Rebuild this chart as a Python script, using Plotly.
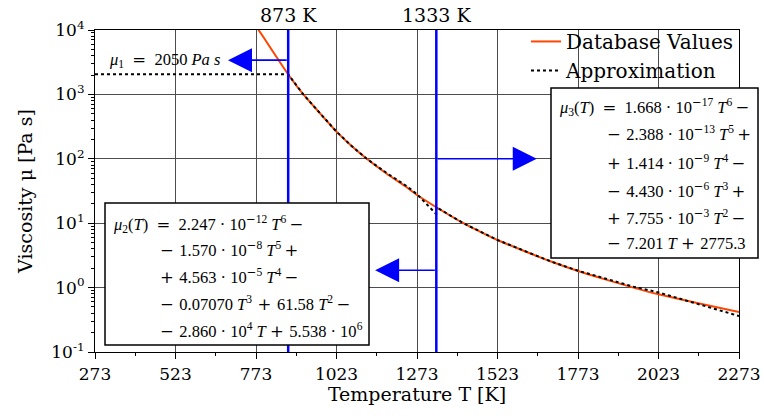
import math
import plotly.graph_objects as go

# ---------------- data ----------------
db_T = [773, 800, 830, 873, 920, 970, 1023, 1070, 1117, 1180, 1241, 1273, 1333,
        1417, 1470, 1523, 1600, 1691, 1773, 1860, 1945, 2023, 2150, 2273]
db_mu = [11500, 7240, 4270, 2040, 1000, 520, 264, 158, 100, 58.2, 36.1, 27.4, 17.7,
         10.0, 7.33, 5.48, 3.80, 2.52, 1.81, 1.33, 1.00, 0.787, 0.565, 0.418]

ap_T = [273, 873, 920, 970, 1023, 1070, 1117, 1180, 1241, 1273, 1290, 1305, 1320, 1333,
        1333, 1417, 1523, 1600, 1691, 1773, 1860, 1945, 2023, 2090, 2152, 2273]
ap_mu = [2050, 2050, 1000, 520, 264, 158, 100, 59.6, 37.6, 28.2, 22.9, 19.1, 15.8, 13.8,
         17.7, 10.0, 5.48, 3.80, 2.52, 1.83, 1.36, 1.035, 0.841, 0.676, 0.543, 0.362]

boundaries = [873, 1333]
boundary_labels = ["873 K", "1333 K"]

x_ticks = [273, 523, 773, 1023, 1273, 1523, 1773, 2023, 2273]
y_ticks = [0.1, 1, 10, 100, 1000, 10000]
y_ticktext = ["10<sup>-1</sup>", "10<sup>0</sup>", "10<sup>1</sup>",
              "10<sup>2</sup>", "10<sup>3</sup>", "10<sup>4</sup>"]

SERIF = "DejaVu Serif"
MATH = "Liberation Serif"
EQ_SIZE = 16.5


def op(c):
    # math operators drawn with a wider glyph set, like TeX's
    return f'<span style="font-family:{SERIF}">{c}</span>'


E = "\u2002"   # space around '='
P = "\u2004"   # space around binary +/−
TH = "\u2009"  # thin space
MI, PL, EQ = op("−"), op("+"), op("=")
DOT = "·"


def pw(e):
    return f"10<sup>{e.replace('−', MI)}</sup>"


def tp(n, gap=True):
    return f"<i>T</i><sup>{n}</sup>{TH if gap else ''}"


mu1_text = f"<i>μ</i><sub>1</sub>{E}{EQ}{E}2050 <i>Pa s</i>"
mu2_lines = [
    f"<i>μ</i><sub>2</sub>(<i>T</i>){E}{EQ}{E}2.247 {DOT} {pw('−12')} {tp(6)}{MI}",
    f"{MI}{P}1.570 {DOT} {pw('−8')} {tp(5)}{PL}",
    f"{PL}{P}4.563 {DOT} {pw('−5')} {tp(4)}{MI}",
    f"{MI}{P}0.07070 {tp(3, False)}{P}{PL}{P}61.58 {tp(2)}{MI}",
    f"{MI}{P}2.860 {DOT} {pw('4')} <i>T</i> {PL}{P}5.538 {DOT} {pw('6')}",
]
mu3_lines = [
    f"<i>μ</i><sub>3</sub>(<i>T</i>){E}{EQ}{E}1.668 {DOT} {pw('−17')} {tp(6)}{MI}",
    f"{MI}{P}2.388 {DOT} {pw('−13')} {tp(5)}{PL}",
    f"{PL}{P}1.414 {DOT} {pw('−9')} {tp(4)}{MI}",
    f"{MI}{P}4.430 {DOT} {pw('−6')} {tp(3)}{PL}",
    f"{PL}{P}7.755 {DOT} {pw('−3')} {tp(2)}{MI}",
    f"{MI}{P}7.201 <i>T</i> {PL}{P}2775.3",
]

# ---------------- layout helpers ----------------
W, H = 764, 416
L, R, T, B = 95, 739, 30, 352


def px(xp):
    return (xp - L) / (R - L)


def py(yp):
    return (B - yp) / (B - T)


fig = go.Figure()
fig.add_trace(go.Scatter(x=db_T, y=db_mu, mode="lines", name="Database Values",
                         line=dict(color="#FF4500", width=2, shape="spline", smoothing=0.5)))
fig.add_trace(go.Scatter(x=ap_T, y=ap_mu, mode="lines", name="Approximation",
                         line=dict(color="black", width=2, dash="dot")))

shapes = []
for b in boundaries:
    shapes.append(dict(type="line", xref="x", yref="paper", x0=b, x1=b, y0=0, y1=1,
                       line=dict(color="#0000FF", width=2.5), layer="above"))
shapes.append(dict(type="rect", xref="paper", yref="paper", x0=px(105), x1=px(369),
                   y0=py(345), y1=py(203), fillcolor="white",
                   line=dict(color="black", width=1.5), layer="above"))
shapes.append(dict(type="rect", xref="paper", yref="paper", x0=px(551), x1=px(758),
                   y0=py(258), y1=py(88), fillcolor="white",
                   line=dict(color="black", width=1.5), layer="above"))

ann = []
for b, lab in zip(boundaries, boundary_labels):
    ann.append(dict(x=b, y=py(15), xref="x", yref="paper", text=lab, showarrow=False,
                    font=dict(family=SERIF, size=19, color="black"),
                    xanchor="center", yanchor="middle"))

mu2_y = [223, 249, 276, 303, 330]
for i, (t, yy) in enumerate(zip(mu2_lines, mu2_y)):
    ann.append(dict(x=px(111 if i == 0 else 158), y=py(yy), xref="paper", yref="paper",
                    text=t, showarrow=False,
                    font=dict(family=MATH, size=EQ_SIZE, color="black"),
                    xanchor="left", yanchor="middle"))
mu3_y = [106, 133, 162, 190, 217, 243]
for i, (t, yy) in enumerate(zip(mu3_lines, mu3_y)):
    ann.append(dict(x=px(557 if i == 0 else 605), y=py(yy), xref="paper", yref="paper",
                    text=t, showarrow=False,
                    font=dict(family=MATH, size=EQ_SIZE, color="black"),
                    xanchor="left", yanchor="middle"))

ann.append(dict(x=px(222), y=py(60), xref="paper", yref="paper", text=mu1_text,
                showarrow=False, font=dict(family=MATH, size=EQ_SIZE, color="black"),
                xanchor="right", yanchor="middle"))

arrow_style = dict(showarrow=True, arrowhead=2, arrowsize=3, arrowwidth=1.6,
                   arrowcolor="#0000FF", text="", xref="x", yref="y", axref="x", ayref="y")
ann.append(dict(x=686, y=math.log10(3400), ax=873, ay=math.log10(3400), **arrow_style))
ann.append(dict(x=1645, y=2, ax=1333, ay=2, **arrow_style))
ann.append(dict(x=1143, y=math.log10(1.86), ax=1333, ay=math.log10(1.86), **arrow_style))

fig.update_layout(
    width=W, height=H,
    margin=dict(l=L, r=W - R, t=T, b=H - B, autoexpand=False),
    paper_bgcolor="white", plot_bgcolor="white",
    shapes=shapes, annotations=ann,
    showlegend=True,
    legend=dict(x=1, y=1.025, xanchor="right", yanchor="top", bgcolor="rgba(0,0,0,0)",
                font=dict(family=SERIF, size=20, color="black"), tracegroupgap=0),
    font=dict(family=SERIF, color="black"),
)
fig.update_xaxes(range=[273, 2273], tickvals=x_ticks, ticks="outside", ticklen=6,
                 tickcolor="black", tickfont=dict(family=SERIF, size=17), automargin=False,
                 showline=True, linecolor="black", linewidth=1.2, mirror=True,
                 showgrid=True, gridcolor="#4d4d4d", gridwidth=1, zeroline=False,
                 minor=dict(tick0=273, dtick=125, ticks="outside", ticklen=3,
                            tickcolor="black", showgrid=False),
                 title=dict(text="Temperature T [K]", font=dict(family=SERIF, size=19), standoff=4))
fig.update_yaxes(type="log", range=[-1, 4], tickvals=y_ticks, ticktext=y_ticktext,
                 ticks="outside", ticklen=6, tickcolor="black", automargin=False,
                 tickfont=dict(family=SERIF, size=17),
                 showline=True, linecolor="black", linewidth=1.2, mirror=True,
                 showgrid=True, gridcolor="#4d4d4d", gridwidth=1, zeroline=False,
                 minor=dict(dtick="D1", ticks="outside", ticklen=3, tickcolor="black",
                            showgrid=False),
                 title=dict(text="Viscosity μ [Pa s]", font=dict(family=SERIF, size=19), standoff=13))

fig.write_html("out.html", config={"displayModeBar": False},
               post_script="document.body.style.margin='0px';")
